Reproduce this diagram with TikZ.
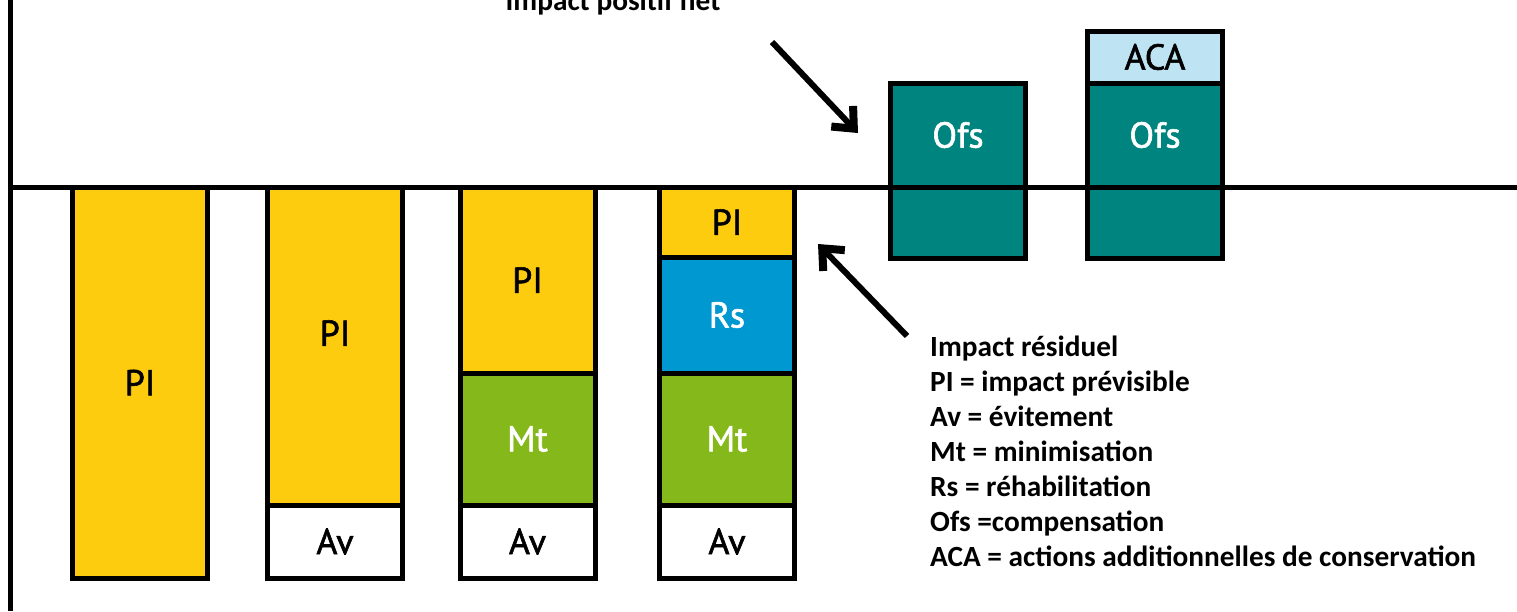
\documentclass[tikz,border=0pt]{standalone}
\usepackage{fontspec}
\setmainfont{Carlito}
\newfontfamily\boxfont[FakeBold=1.6]{PT Sans}
\usetikzlibrary{arrows.meta}
\definecolor{piyellow}{HTML}{FECC0F}
\definecolor{mtgreen}{HTML}{85B81A}
\definecolor{rsblue}{HTML}{0098D0}
\definecolor{ofsteal}{HTML}{00847F}
\definecolor{acablue}{HTML}{BEE3F2}
\begin{document}
\begin{tikzpicture}[x=1pt,y=-1pt,
  seg/.style={draw=black, line width=5pt, inner sep=0pt, outer sep=0pt,
    minimum width=135pt, font=\boxfont\fontsize{36}{40}\selectfont},
  pi/.style={seg, fill=piyellow, text=black},
  av/.style={seg, fill=white, text=black},
  mt/.style={seg, fill=mtgreen, text=white},
  rs/.style={seg, fill=rsblue, text=white},
  ofs/.style={seg, fill=ofsteal, text=white},
  aca/.style={seg, fill=acablue, text=black},
  boxlbl/.style={inner sep=0pt, font=\boxfont\fontsize{36}{40}\selectfont},
  axis/.style={line width=4.5pt, black},
  arr/.style={line width=6pt, black, -{Straight Barb[length=17pt, width=30pt, line width=2pt 1]}},
  txt/.style={inner sep=0pt, font=\bfseries\fontsize{29.3}{35}\selectfont}
]
\useasboundingbox (0,0) rectangle (1517,611);

% bar 1
\node[pi, minimum height=391pt] (b1pi) at (140,382.5) {PI};
% bar 2
\node[pi, minimum height=318pt, label={[boxlbl, yshift=13pt, name=b2pilbl]center:PI}] (b2pi) at (335,346) {};
\node[av, minimum height=73pt] (b2av) at (335,541.5) {Av};
% bar 3
\node[pi, minimum height=186pt] (b3pi) at (527.5,280) {PI};
\node[mt, minimum height=132pt] (b3mt) at (527.5,439) {Mt};
\node[av, minimum height=73pt] (b3av) at (527.5,541.5) {Av};
% bar 4
\node[pi, minimum height=70pt] (b4pi) at (727,222) {PI};
\node[rs, minimum height=116pt] (b4rs) at (727,315) {Rs};
\node[mt, minimum height=132pt] (b4mt) at (727,439) {Mt};
\node[av, minimum height=73pt] (b4av) at (727,541.5) {Av};
% offsets
\node[ofs, minimum height=175pt] (ofs1) at (958,170.5) {};
\node[boxlbl, text=white] (ofs1lbl) at (958,135) {Ofs};
\node[aca, minimum height=52pt] (aca2) at (1155,57) {ACA};
\node[ofs, minimum height=175pt] (ofs2) at (1155,170.5) {};
\node[boxlbl, text=white] (ofs2lbl) at (1155,135) {Ofs};

% axes
\draw[axis] (10.7,0) -- (10.7,611);
\draw[axis] (10.7,187.5) -- (1517,187.5);

% texts
\node[txt, anchor=base] (toptxt) at (613,10) {Impact positif net};
\node[txt, anchor=base west, align=left] (legend) at (930,566) {Impact résiduel\\
PI = impact prévisible\\
Av = évitement\\
Mt = minimisation\\
Rs = réhabilitation\\
Ofs =compensation\\
ACA = actions additionnelles de conservation};

% arrows
\coordinate (a1s) at (772,42);
\coordinate (a1e) at (858,133);
\coordinate (a2s) at (907,336);
\coordinate (a2e) at (818,244);
\draw[arr] (a1s) -- (a1e);
\draw[arr] (a2s) -- (a2e);
\end{tikzpicture}
\end{document}
